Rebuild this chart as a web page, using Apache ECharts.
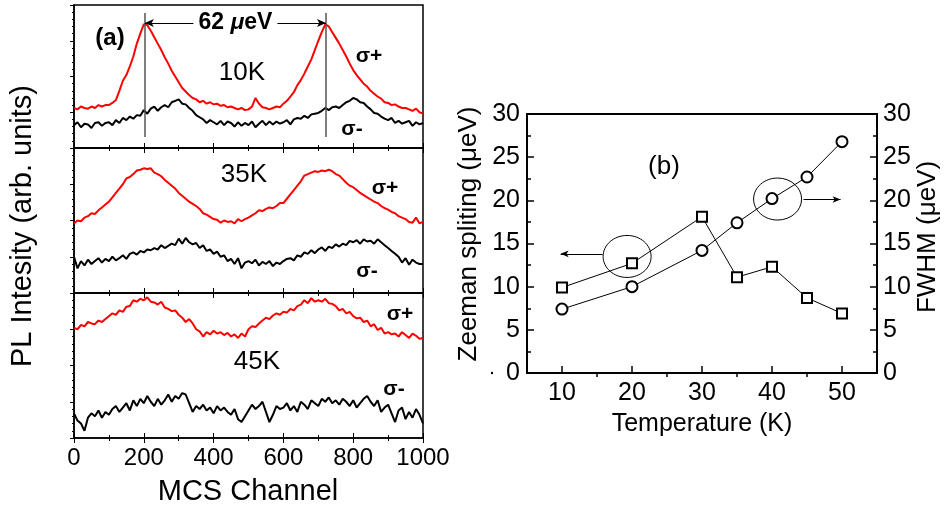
<!DOCTYPE html>
<html>
<head>
<meta charset="utf-8">
<script src="https://cdn.jsdelivr.net/npm/echarts@6/dist/echarts.min.js"></script>
<style>
  html, body { margin: 0; padding: 0; background: #fff; }
  #chart { width: 949px; height: 514px; }
</style>
</head>
<body>
<div id="chart"></div>
<script>
const FONT = "'Liberation Sans', Arial, sans-serif";

// MCS channel sampling grid (every 10 channels)
const channels = Array.from({ length: 101 }, (_, i) => i * 10);

// PL intensity, arb. units (0-100 = height of each sub-panel)
const red10K = [
  28, 27, 29, 28, 27.5, 29, 28, 30, 29, 30,
  30, 31.5, 33.5, 40, 47, 51, 57, 64, 73, 80,
  86.5, 86, 82, 77.5, 73, 68.5, 63.5, 59, 54, 50,
  46, 42, 39.5, 37, 35, 34, 32, 33, 31, 32,
  30.5, 31, 29.5, 30, 28.5, 29, 28, 27, 28, 26.5,
  27, 29, 35, 31, 28.5, 28, 27, 28, 29, 28.5,
  31, 33, 36, 39, 44, 47.5, 52, 57, 62, 68.5,
  75, 81, 86.5, 85, 81, 77, 73, 68.5, 64, 59,
  54.5, 51, 48, 45, 43, 40, 38, 36, 34.5, 32,
  31.5, 30, 30.5, 29, 28, 28, 27, 26, 27.5, 25, 24
];
const black10K = [
  16, 18, 14.5, 17, 16.5, 14, 17.5, 18, 15.5, 17.5,
  18, 16, 19.5, 17.5, 21, 19.5, 22, 20.5, 23, 22.5,
  26.5, 24, 27.5, 29, 26, 28.5, 30, 28.5, 32, 33,
  34, 31, 30.5, 28, 26, 23, 21.5, 20, 17.5, 19.5,
  18, 16.5, 19, 16, 18.5, 17.5, 15, 18, 15.5, 17.5,
  16, 18.5, 14.5, 17, 19, 16, 18.5, 16.5, 18.5, 17,
  18, 19.5, 16.5, 20, 21, 20.5, 22.5, 21, 23.5, 24,
  24.5, 26, 28, 26.5, 28.5, 29, 28, 30, 32, 33,
  35, 34, 32, 31.5, 29, 27, 24.5, 24, 22, 20.5,
  19.5, 21, 17.5, 19, 17, 18, 19, 15.5, 18, 16.5, 17.5
];
const red35K = [
  48, 50, 49.5, 52, 53, 55, 54.5, 57, 59, 61,
  63, 66, 69, 72, 75, 79, 80, 82, 84.5, 85,
  86, 85.5, 86, 83, 82, 80.5, 78, 76, 74, 72,
  69, 67, 65, 63, 61.5, 60, 58, 55, 54, 52.5,
  51, 50.5, 48.5, 50, 49, 49.5, 48, 51, 49.5, 51,
  52, 53.5, 55, 57, 56.5, 58, 59, 58.5, 60, 62,
  62, 65, 68, 71, 74, 77, 81, 82, 83, 84,
  83.5, 84.5, 84, 85, 84, 82, 81, 78.5, 76, 74,
  73, 71, 69, 67.5, 66, 64.5, 63, 62, 60, 58.5,
  57.5, 56, 55, 53, 52, 51, 49, 48.5, 52, 48, 49
];
const black35K = [
  25, 17, 22, 19, 23, 20, 22, 24, 21, 23.5,
  22, 25, 22.5, 24, 26, 23.5, 27, 28, 26.5, 29,
  28, 30, 29.5, 31, 30, 33, 31, 32.5, 34, 33,
  37.5, 34, 38, 35, 33.5, 34.5, 31, 33, 29, 30,
  27, 28.5, 25, 26, 22, 23.5, 20, 24, 17, 21,
  22, 20.5, 23, 19, 21.5, 20, 22, 18.5, 21, 20,
  22, 23.5, 24, 22.5, 26, 25, 28, 27, 29.5, 27.5,
  30, 31.5, 29, 32, 31, 33.5, 32, 34, 33, 36,
  35, 36.5, 34, 37, 35.5, 36, 34, 37, 35, 33,
  31, 29, 27, 25, 21, 24, 19.5, 23, 21, 20, 20
];
const red45K = [
  76, 75, 78, 77, 80, 79, 78.5, 81, 80, 82,
  84, 86, 85, 88, 87, 90.5, 91, 95, 94, 96,
  95, 97, 94, 93.5, 92, 94, 90, 89, 87.5, 88,
  85, 83, 80, 82, 79, 75, 73.5, 70, 73, 71.5,
  74, 72, 73, 71, 72.5, 70, 71.5, 69, 72, 70,
  75, 77, 76.5, 79, 81, 83, 82, 84.5, 86, 85,
  87, 86.5, 89, 88, 91, 92, 95, 93, 96.5, 94,
  95, 94, 96, 93, 92.5, 91, 88, 89, 86, 87,
  84, 82.5, 83, 80, 81, 77, 78.5, 74.5, 76, 72,
  73, 71.5, 72, 70, 73, 71, 69, 72, 70.5, 68.5, 69
];
const black45K = [
  17, 12, 10, 5, 14, 17, 15, 19, 14, 18,
  16, 20, 22, 18, 21, 24, 19, 26, 22, 27,
  24, 29, 25, 22, 27, 23, 26, 30, 25, 29,
  27, 31, 30, 24, 18, 22, 20, 23, 19, 21,
  17, 22, 19, 21, 18, 16, 20, 13, 11, 15,
  19, 23, 20, 22, 25, 18, 11, 16, 22, 20,
  21, 24, 19, 22, 18, 25, 23, 20, 26, 24,
  22, 27, 25, 28, 24, 26, 23, 27, 25, 22,
  26, 21, 24, 27, 29, 25, 22, 26, 18, 21,
  23, 17, 11, 19, 21, 13, 18, 14, 20, 16, 10
];

// peak positions of the 10K sigma+ line (channels)
const peakChannels = [203, 722];

// panel (b)
const temperature = [10, 20, 30, 35, 40, 45, 50];
const zeemanSplit = [9.9, 12.7, 18.1, 11.1, 12.3, 8.7, 6.9];
const fwhm = [7.4, 10.0, 14.2, 17.4, 20.2, 22.7, 26.8];
const tempTicks = [10, 20, 30, 40, 50];
const tempMinorTicks = [15, 25, 35, 45];

const pairs = (ys) => channels.map((c, i) => [c, ys[i]]);

const chart = echarts.init(document.getElementById('chart'));

// sub-panels of (a)
const panelTops = [5, 148, 293];
const panelHeights = [143, 145, 145];

const grids = panelTops.map((t, i) => ({
  left: 74, top: t, width: 349, height: panelHeights[i],
  show: true, borderColor: '#000', borderWidth: 1.5, backgroundColor: 'transparent'
}));
grids.push({
  left: 527, top: 114, width: 350, height: 259,
  show: true, borderColor: '#000', borderWidth: 2, backgroundColor: 'transparent'
});

const xAxes = [];
const yAxes = [];
// bottom x axes (a)
for (let i = 0; i < 3; i++) {
  xAxes.push({
    type: 'value', gridIndex: i, min: 0, max: 1000, interval: 200,
    axisLine: { show: true, lineStyle: { color: '#000', width: 1.5 } },
    axisTick: { show: true, inside: true, length: 5, lineStyle: { color: '#000' } },
    minorTick: { show: true, splitNumber: 2, length: 3, lineStyle: { color: '#000' } },
    splitLine: { show: false },
    axisLabel: {
      show: i === 2, fontSize: 24, color: '#000', fontFamily: FONT, margin: 8,
      formatter: (v) => String(v)
    }
  });
}
// top x axes (a) – ticks only
for (let i = 0; i < 3; i++) {
  xAxes.push({
    type: 'value', gridIndex: i, position: 'top', min: 0, max: 1000, interval: 200,
    axisLine: { show: false },
    axisTick: { show: true, inside: true, length: 5, lineStyle: { color: '#000' } },
    minorTick: { show: true, splitNumber: 2, length: 3, lineStyle: { color: '#000' } },
    splitLine: { show: false }, axisLabel: { show: false }
  });
}
// panel (b) x axes
xAxes.push({
  type: 'value', gridIndex: 3, min: 5, max: 55,
  axisLine: { show: true, lineStyle: { color: '#000', width: 2 } },
  axisTick: { show: true, inside: true, length: 7, customValues: tempTicks, lineStyle: { color: '#000', width: 1.5 } },
  axisLabel: { fontSize: 25, color: '#000', fontFamily: FONT, margin: 8, customValues: tempTicks },
  splitLine: { show: false }
});
xAxes.push({
  type: 'value', gridIndex: 3, min: 5, max: 55,
  axisLine: { show: false },
  axisTick: { show: true, inside: true, length: 4, customValues: tempMinorTicks, lineStyle: { color: '#000', width: 1.5 } },
  axisLabel: { show: false }, splitLine: { show: false }
});

// y axes (a) left + right
for (let i = 0; i < 3; i++) {
  yAxes.push({
    type: 'value', gridIndex: i, min: 0, max: 100, interval: 25,
    axisLine: { show: true, lineStyle: { color: '#000', width: 1.5 } },
    axisTick: { show: true, inside: false, length: 4, lineStyle: { color: '#000' } },
    minorTick: { show: true, splitNumber: 5, length: 2, lineStyle: { color: '#000' } },
    splitLine: { show: false }, axisLabel: { show: false }
  });
}
for (let i = 0; i < 3; i++) {
  yAxes.push({
    type: 'value', gridIndex: i, position: 'right', min: 0, max: 100, interval: 25,
    axisLine: { show: false },
    axisTick: { show: true, inside: true, length: 4, lineStyle: { color: '#000' } },
    minorTick: { show: true, splitNumber: 5, length: 2, lineStyle: { color: '#000' } },
    splitLine: { show: false }, axisLabel: { show: false }
  });
}
// y axes (b)
yAxes.push({
  type: 'value', gridIndex: 3, min: 0, max: 30, interval: 5,
  axisLine: { show: true, lineStyle: { color: '#000', width: 2 } },
  axisTick: { show: true, inside: true, length: 7, lineStyle: { color: '#000', width: 1.5 } },
  minorTick: { show: true, splitNumber: 2, length: 4, lineStyle: { color: '#000', width: 1.5 } },
  axisLabel: { fontSize: 25, color: '#000', fontFamily: FONT, margin: 7 },
  splitLine: { show: false }
});
yAxes.push({
  type: 'value', gridIndex: 3, position: 'right', min: 0, max: 30, interval: 5,
  axisLine: { show: true, lineStyle: { color: '#000', width: 2 } },
  axisTick: { show: true, inside: true, length: 7, lineStyle: { color: '#000', width: 1.5 } },
  minorTick: { show: true, splitNumber: 2, length: 4, lineStyle: { color: '#000', width: 1.5 } },
  axisLabel: { fontSize: 25, color: '#000', fontFamily: FONT, margin: 6 },
  splitLine: { show: false }
});

const spectrum = (name, ys, idx, color) => ({
  name, type: 'line', xAxisIndex: idx, yAxisIndex: idx,
  data: pairs(ys), symbol: 'none', smooth: false,
  lineStyle: { color, width: 2 }, z: color === '#ff0000' ? 3 : 2
});

const red10Series = spectrum('σ+ 10K', red10K, 0, '#ff0000');
red10Series.markLine = {
  silent: true, symbol: ['none', 'none'],
  data: [
    [{ coord: [peakChannels[0], 7.7] }, { coord: [peakChannels[0], 94.4] }],
    [{ coord: [peakChannels[1], 7.7] }, { coord: [peakChannels[1], 94.4] }],
    [
      { coord: [peakChannels[0], 87.4], symbol: 'arrow', symbolSize: [6, 9] },
      { coord: [peakChannels[1], 87.4], symbol: 'arrow', symbolSize: [6, 9], lineStyle: { color: '#000', width: 1 } }
    ]
  ],
  lineStyle: { color: '#555', width: 1.5, type: 'solid' },
  label: { show: false }
};

const series = [
  spectrum('σ- 10K', black10K, 0, '#000'),
  red10Series,
  spectrum('σ- 35K', black35K, 1, '#000'),
  spectrum('σ+ 35K', red35K, 1, '#ff0000'),
  spectrum('σ- 45K', black45K, 2, '#000'),
  spectrum('σ+ 45K', red45K, 2, '#ff0000'),
  {
    name: 'Zeeman', type: 'line', xAxisIndex: 6, yAxisIndex: 6,
    data: temperature.map((t, i) => [t, zeemanSplit[i]]),
    symbol: 'rect', symbolSize: 10,
    itemStyle: { color: '#fff', borderColor: '#000', borderWidth: 2 },
    lineStyle: { color: '#000', width: 1 },
    markLine: {
      silent: true, symbol: ['none', 'arrow'], symbolSize: [5, 8],
      lineStyle: { color: '#000', width: 1, type: 'solid' }, label: { show: false },
      data: [[{ coord: [15.8, 13.8] }, { coord: [9.8, 13.8] }]]
    }
  },
  {
    name: 'FWHM', type: 'line', xAxisIndex: 6, yAxisIndex: 7,
    data: temperature.map((t, i) => [t, fwhm[i]]),
    symbol: 'circle', symbolSize: 11,
    itemStyle: { color: '#fff', borderColor: '#000', borderWidth: 2 },
    lineStyle: { color: '#000', width: 1 },
    markLine: {
      silent: true, symbol: ['none', 'arrow'], symbolSize: [5, 8],
      lineStyle: { color: '#000', width: 1, type: 'solid' }, label: { show: false },
      data: [[{ coord: [44.5, 20.1] }, { coord: [49.8, 20.1] }]]
    }
  }
];

const txt = (text, x, y, size, opts = {}) => ({
  type: 'text', x, y, rotation: opts.rotation || 0, z: 100,
  style: {
    text, fill: '#000', align: 'center', verticalAlign: 'middle',
    font: `${opts.bold ? 'bold ' : ''}${size}px ${FONT}`
  }
});

const option = {
  animation: false,
  backgroundColor: '#fff',
  grid: grids,
  xAxis: xAxes,
  yAxis: yAxes,
  series
};
chart.setOption(option);

// annotation ellipses around the marked points in (b)
const e1 = chart.convertToPixel({ xAxisIndex: 6, yAxisIndex: 6 }, [19.3, 13.5]);
const e2 = chart.convertToPixel({ xAxisIndex: 6, yAxisIndex: 7 }, [40.8, 20.15]);
// centre of the splitting arrow
const mid = chart.convertToPixel({ xAxisIndex: 0, yAxisIndex: 0 }, [(peakChannels[0] + peakChannels[1]) / 2, 87.4]);

chart.setOption({
  graphic: [
    {
      type: 'text', x: mid[0], y: mid[1], z: 100,
      style: {
        text: '{b|62 }{i|μ}{b|eV}', align: 'center', verticalAlign: 'middle',
        backgroundColor: '#fff', padding: [0, 5],
        rich: {
          b: { font: `bold 23px ${FONT}`, fill: '#000' },
          i: { font: `italic bold 23px ${FONT}`, fill: '#000' }
        }
      }
    },
    txt('(a)', 110, 38, 24, { bold: true }),
    txt('10K', 242, 73, 26),
    txt('σ+', 369, 56, 21, { bold: true }),
    txt('σ-', 352, 129, 21, { bold: true }),
    txt('35K', 244, 175, 26),
    txt('σ+', 385, 188, 21, { bold: true }),
    txt('σ-', 367, 271, 21, { bold: true }),
    txt('45K', 257, 362, 26),
    txt('σ+', 400, 314, 21, { bold: true }),
    txt('σ-', 394, 389, 21, { bold: true }),
    txt('MCS Channel', 248, 492, 29),
    txt('PL Intesity (arb. units)', 23, 226, 29, { rotation: Math.PI / 2 }),
    txt('(b)', 664, 167, 26),
    txt('Temperature (K)', 702, 424, 25),
    txt('Zeeman spliting (μeV)', 469, 234, 26, { rotation: Math.PI / 2 }),
    txt('FWHM (μeV)', 928, 237, 26, { rotation: Math.PI / 2 }),
    { type: 'circle', shape: { cx: 492, cy: 373, r: 1.2 }, style: { fill: '#000' } },
    {
      type: 'ellipse', shape: { cx: e1[0], cy: e1[1], rx: 24, ry: 21 },
      style: { fill: 'none', stroke: '#000', lineWidth: 1 }, z: 100
    },
    {
      type: 'ellipse', shape: { cx: e2[0], cy: e2[1], rx: 24, ry: 21 },
      style: { fill: 'none', stroke: '#000', lineWidth: 1 }, z: 100
    }
  ]
});

window.addEventListener('resize', () => chart.resize());
</script>
</body>
</html>
